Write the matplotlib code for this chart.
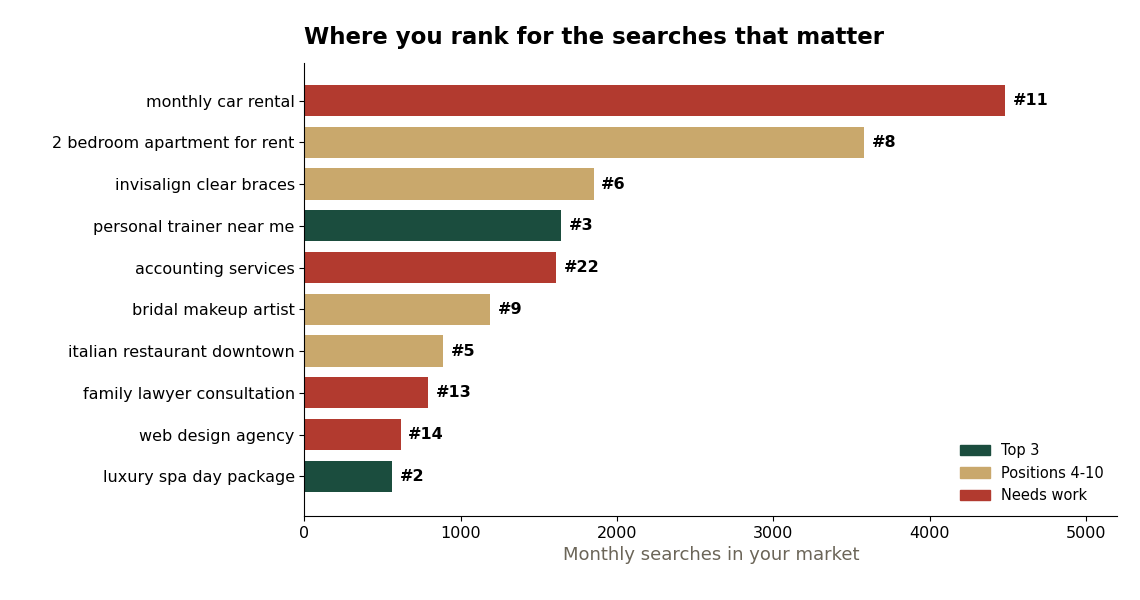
import matplotlib
matplotlib.use("Agg")
import matplotlib.pyplot as plt
from matplotlib.patches import Patch

keywords = ["monthly car rental", "2 bedroom apartment for rent", "invisalign clear braces",
            "personal trainer near me", "accounting services", "bridal makeup artist",
            "italian restaurant downtown", "family lawyer consultation", "web design agency",
            "luxury spa day package"]
searches = [4480, 3580, 1850, 1640, 1610, 1190, 885, 790, 615, 560]
ranks = [11, 8, 6, 3, 22, 9, 5, 13, 14, 2]

GREEN, TAN, RED = "#1b4d3e", "#c9a86c", "#b23a2f"

def color_for(r):
    if r <= 3:
        return GREEN
    if r <= 10:
        return TAN
    return RED

fig, ax = plt.subplots(figsize=(11.4, 6), dpi=100)
fig.subplots_adjust(left=0.267, right=0.98, top=0.895, bottom=0.14)

y = list(range(len(keywords)))[::-1]
ax.barh(y, searches, height=0.75, color=[color_for(r) for r in ranks])
for yi, v, r in zip(y, searches, ranks):
    ax.text(v + 50, yi, f"#{r}", va="center", ha="left", fontsize=11.5, fontweight="bold")

ax.set_yticks(y)
ax.set_yticklabels(keywords, fontsize=11.5)
ax.tick_params(axis="x", labelsize=11.5)
ax.set_xlim(0, 5200)
ax.set_ylim(-0.95, 9.9)
ax.set_xlabel("Monthly searches in your market", fontsize=13, color="#6b6558")
ax.spines["top"].set_visible(False)
ax.spines["right"].set_visible(False)
ax.set_title("Where you rank for the searches that matter", fontsize=16.5,
             fontweight="bold", loc="left", pad=14)

handles = [Patch(color=GREEN, label="Top 3"), Patch(color=TAN, label="Positions 4-10"),
           Patch(color=RED, label="Needs work")]
ax.legend(handles=handles, loc="lower right", frameon=False, fontsize=10.5)

fig.savefig("out.png")
